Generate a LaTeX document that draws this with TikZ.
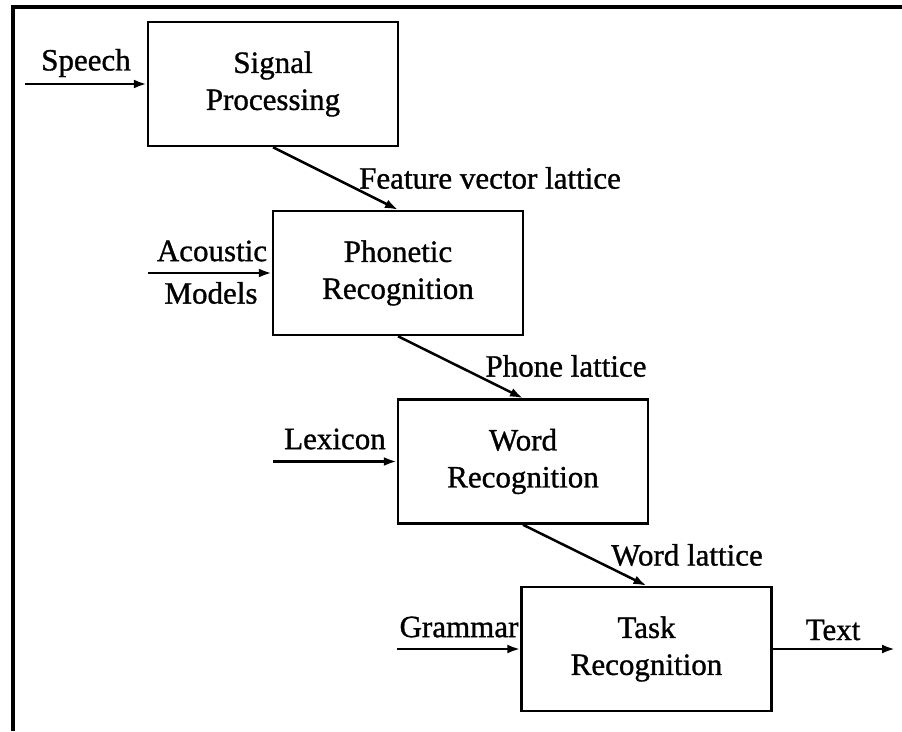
\documentclass[tikz,border=0pt]{standalone}
\usepackage{fontspec}
\setmainfont{Liberation Serif}[BoldFont={Liberation Serif},BoldFeatures={FakeBold=1.0}]
\usetikzlibrary{arrows.meta}
\begin{document}
\begin{tikzpicture}[x=1pt,y=-1pt,
  stage/.style={draw,line width=2.5pt,minimum width=250pt,minimum height=124pt,
    align=center,inner sep=0pt,font=\fontsize{31}{37}\selectfont\bfseries},
  lbl/.style={inner sep=0pt,font=\fontsize{31}{37}\selectfont\bfseries,align=center},
  flow/.style={line width=2.5pt,-{Latex[length=13pt,width=9pt]}},
  frame/.style={line width=3.5pt}]
\useasboundingbox (0,0) rectangle (902,731);

% open frame: left and top edges only
\coordinate (fbl) at (13,731);
\coordinate (ftl) at (13,7);
\coordinate (ftr) at (902,7);
\draw[frame] (fbl) -- (ftl) -- (ftr);

% processing stages
\node[stage] (sig) at (273,84)    {Signal\\Processing};
\node[stage] (pho) at (398,273)   {Phonetic\\Recognition};
\node[stage] (wrd) at (523,461.5) {Word\\Recognition};
\node[stage] (tsk) at (646.5,649) {Task\\Recognition};

% inputs
\coordinate (inS) at (25,84);
\coordinate (inA) at (148,273);
\coordinate (inL) at (273,461.5);
\coordinate (inG) at (397,649);
\coordinate (outT) at (895,649);

\draw[flow] (inS) -- (sig.west);
\draw[flow] (inA) -- (pho.west);
\draw[flow] (inL) -- (wrd.west);
\draw[flow] (inG) -- (tsk.west);
\draw[flow] (tsk.east) -- (outT);

\node[lbl] (lS) at (86,63)   {Speech};
\node[lbl] (lA) at (212,251) {Acoustic};
\node[lbl] (lM) at (211,293) {Models};
\node[lbl] (lL) at (335,439) {Lexicon};
\node[lbl] (lG) at (459,627) {Grammar};
\node[lbl] (lT) at (833,630) {Text};

% lattices passed between stages
\draw[flow] (sig.south) -- (pho.north);
\draw[flow] (pho.south) -- (wrd.north);
\draw[flow] (wrd.south) -- (tsk.north);

\node[lbl] (lF)  at (490,178) {Feature vector lattice};
\node[lbl] (lP)  at (566,366) {Phone lattice};
\node[lbl] (lW)  at (687,555) {Word lattice};
\end{tikzpicture}
\end{document}
